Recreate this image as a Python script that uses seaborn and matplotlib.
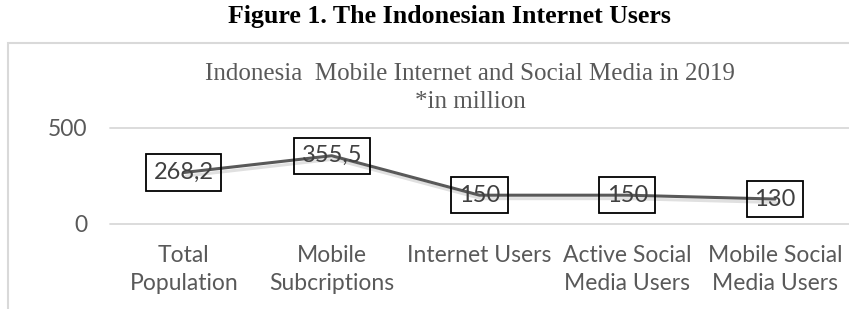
"""Indonesia mobile internet and social media, 2019."""

import matplotlib

matplotlib.use("Agg")
import matplotlib.patheffects as pe
import matplotlib.pyplot as plt
import pandas as pd
import seaborn as sns
from matplotlib.patches import Rectangle

CATEGORIES = [
    "Total\nPopulation",
    "Mobile\nSubcriptions",
    "Internet Users",
    "Active Social\nMedia Users",
    "Mobile Social\nMedia Users",
]
VALUES = [268.2, 355.5, 150, 150, 130]
Y_TICKS = [0, 500]

sns.set_theme(style="white")
plt.rcParams["font.family"] = ["Lato", "DejaVu Sans"]

df = pd.DataFrame({"category": CATEGORIES, "value": VALUES})

fig = plt.figure(figsize=(8.49, 3.09), dpi=100)
ax = fig.add_axes([110 / 849, 85 / 309, 739 / 849, 96 / 309])

# outer chart frame (Excel-like), cut by the right and bottom image edges
fig.patches.append(
    Rectangle(
        (8 / 849, -0.2), 1.2, 0.2 + (309 - 43) / 309,
        transform=fig.transFigure, fill=False, edgecolor="#d9d9d9",
        linewidth=1.5, zorder=0,
    )
)

sns.lineplot(
    data=df, x="category", y="value", sort=False, color="#595959",
    linewidth=2.2, ax=ax,
    path_effects=[pe.SimpleLineShadow(offset=(1.5, -2.5), alpha=0.12, shadow_color="black"), pe.Normal()],
)

for i, v in enumerate(VALUES):
    label = f"{v:g}".replace(".", ",")
    ax.text(
        i, v, label, ha="center", va="center", fontsize=17, color="#404040",
        bbox=dict(boxstyle="square,pad=0.32", facecolor="none", edgecolor="black", linewidth=1.3),
        zorder=5,
    )

ax.set_xlim(-0.5, len(CATEGORIES) - 0.5)
ax.set_ylim(0, 500)
ax.set_yticks(Y_TICKS)
for y in Y_TICKS:
    ax.axhline(y, color="#d9d9d9", linewidth=1.3, zorder=0, clip_on=False)
ax.set_xlabel("")
ax.set_ylabel("")
ax.tick_params(axis="x", length=0, pad=15, labelsize=16.5, labelcolor="#595959")
ax.tick_params(axis="y", length=0, pad=16, labelsize=16.5, labelcolor="#595959")
for lbl in ax.get_xticklabels():
    lbl.set_linespacing(1.45)
sns.despine(ax=ax, left=True, bottom=True)
ax.patch.set_alpha(0)

fig.text(
    449 / 849, 1 - 17 / 309, "Figure 1. The Indonesian Internet Users",
    ha="center", va="center", fontsize=18.6, fontweight="bold",
    family=["Liberation Serif", "DejaVu Serif"], color="black",
)
fig.text(
    470 / 849, 1 - 88 / 309, "Indonesia  Mobile Internet and Social Media in 2019\n*in million",
    ha="center", va="center", fontsize=18, linespacing=1.38,
    family=["Liberation Serif", "DejaVu Serif"], color="#595959",
)

fig.savefig("out.png", dpi=100)
